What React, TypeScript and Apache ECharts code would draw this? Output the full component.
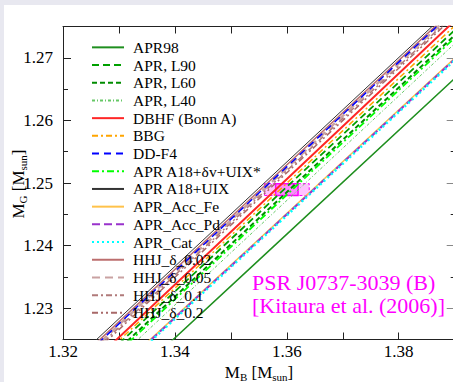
import React, { useEffect, useRef } from "react";
import * as echarts from "echarts";

// Baryonic mass sample points (M_sun)
const massBaryon = [1.32, 1.355, 1.39];

// Gravitational mass (M_sun) at the sample points, per EOS
const apr98 = [1.20867, 1.23768, 1.2667];
const aprL90 = [1.21598, 1.24521, 1.27443];
const aprL60 = [1.21515, 1.24437, 1.2736];
const aprL40 = [1.21381, 1.24304, 1.27226];
const dbhf = [1.21691, 1.24641, 1.27592];
const bbg = [1.21645, 1.24578, 1.27511];
const ddf4 = [1.21915, 1.24841, 1.27767];
const aprA18dv = [1.21473, 1.24395, 1.27318];
const aprA18 = [1.21999, 1.24919, 1.27838];
const accFe = [1.21211, 1.24102, 1.26993];
const accPd = [1.21195, 1.24086, 1.26977];
const aprCat = [1.21178, 1.24069, 1.2696];
const hhj002 = [1.21949, 1.24871, 1.27794];
const hhj005 = [1.21899, 1.24821, 1.27744];
const hhj01 = [1.21857, 1.2478, 1.27702];
const hhj02 = [1.21824, 1.24746, 1.27669];

const seriesNames = [
  "APR98",
  "APR, L90",
  "APR, L60",
  "APR, L40",
  "DBHF (Bonn A)",
  "BBG",
  "DD-F4",
  "APR A18+δv+UIX*",
  "APR A18+UIX",
  "APR_Acc_Fe",
  "APR_Acc_Pd",
  "APR_Cat",
  "HHJ_δ_0.02",
  "HHJ_δ_0.05",
  "HHJ_δ_0.1",
  "HHJ_δ_0.2",
];
const seriesValues = [
  apr98, aprL90, aprL60, aprL40, dbhf, bbg, ddf4, aprA18dv, aprA18,
  accFe, accPd, aprCat, hhj002, hhj005, hhj01, hhj02,
];

// Observational constraint (Kitaura et al. 2006)
const boxOuterMB = [1.356, 1.364];
const boxInnerMB = [1.358, 1.362];
const boxMG = [1.248, 1.2499];

const yMajorTicks = [1.23, 1.24, 1.25, 1.26, 1.27];
const yMinorTicks = [1.225, 1.235, 1.245, 1.255, 1.265, 1.275];

const styles: any[] = [
  { color: "#1f8f1f", width: 1.5, type: "solid" },
  { color: "#00a000", width: 1.8, type: [7, 4] },
  { color: "#008c00", width: 2, type: [5, 3] },
  { color: "#66c866", width: 1, type: [3, 2, 1, 2] },
  { color: "#ff2626", width: 2, type: "solid" },
  { color: "#ffa500", width: 1.5, type: [6, 3, 2, 3] },
  { color: "#0000ff", width: 1.5, type: [7, 5] },
  { color: "#00ff00", width: 1.8, type: [7, 3, 2, 3] },
  { color: "#333333", width: 1, type: "solid" },
  { color: "#ffc24a", width: 1.5, type: "solid" },
  { color: "#9932cc", width: 2, type: [8, 4] },
  { color: "#00ffff", width: 2.5, type: [2, 3] },
  { color: "#bc6e6e", width: 1.5, type: "solid" },
  { color: "#c9a2a2", width: 2.5, type: [8, 5] },
  { color: "#b07a7a", width: 1.5, type: [6, 3, 2, 3] },
  { color: "#a86868", width: 1.5, type: [6, 3, 2, 3, 2, 3] },
];

const SERIF = "'Liberation Serif', 'Times New Roman', Times, serif";

export default function App() {
  const ref = useRef<HTMLDivElement>(null);
  useEffect(() => {
    if (!ref.current) return;
    const chart = echarts.init(ref.current, null, { renderer: "svg" });
    const lineSeries: any[] = seriesNames.map((name, i) => ({
      name,
      type: "line",
      xAxisIndex: 0,
      yAxisIndex: 0,
      symbol: "none",
      data: massBaryon.map((mb, j) => [mb, seriesValues[i][j]]),
      lineStyle: styles[i],
      itemStyle: { color: styles[i].color },
      z: 3,
    }));
    const drawOrder = [8, 12, 13, 14, 15, 6, 4, 5, 1, 2, 7, 3, 9, 10, 11, 0];
    const ordered = drawOrder.map((k) => lineSeries[k]);
    ordered.push({
      name: "box",
      type: "line",
      symbol: "none",
      data: [],
      z: 4,
      markArea: {
        silent: true,
        data: [
          [
            {
              xAxis: boxOuterMB[0],
              yAxis: boxMG[0],
              itemStyle: {
                color: "rgba(255,120,255,0.45)",
                borderColor: "#ff00ff",
                borderWidth: 1,
                borderType: [3, 2],
              },
            },
            { xAxis: boxOuterMB[1], yAxis: boxMG[1] },
          ],
          [
            {
              xAxis: boxInnerMB[0],
              yAxis: boxMG[0],
              itemStyle: {
                color: "rgba(255,0,255,0.3)",
                borderColor: "#ff00ff",
                borderWidth: 1.5,
              },
            },
            { xAxis: boxInnerMB[1], yAxis: boxMG[1] },
          ],
        ],
      },
    });

    const axisLine = { show: true, lineStyle: { color: "#222", width: 1 } };
    const baseY = { type: "value", min: 1.225, max: 1.275, splitLine: { show: false } };
    const richSub = {
      s: { fontFamily: SERIF, fontSize: 11, padding: [9, 0, 0, 0], lineHeight: 7 },
    };
    chart.setOption({
      animation: false,
      textStyle: { fontFamily: SERIF },
      grid: { left: 63, top: 26.5, width: 391.7, height: 313, containLabel: false },
      legend: {
        orient: "vertical",
        left: 91,
        top: 38.5,
        padding: 0,
        itemGap: 0,
        itemWidth: 32,
        itemHeight: 12,
        data: seriesNames,
        selectedMode: false,
        itemStyle: { opacity: 0 },
        textStyle: {
          fontFamily: SERIF,
          fontSize: 15.5,
          color: "#000",
          lineHeight: 17.7,
          padding: [0, 0, 0, 4],
        },
      },
      xAxis: [
        {
          type: "value",
          position: "bottom",
          min: 1.32,
          max: 1.39,
          interval: 0.01,
          axisLine,
          splitLine: { show: false },
          axisTick: { inside: true, length: 7, lineStyle: { color: "#222" } },
          axisLabel: {
            fontFamily: SERIF,
            fontSize: 17,
            color: "#000",
            margin: 3,
            formatter: (v: number) =>
              Math.round(v * 100) % 2 === 0 ? v.toFixed(2) : "",
          },
        },
        {
          type: "value",
          position: "top",
          min: 1.32,
          max: 1.39,
          interval: 0.01,
          axisLine,
          splitLine: { show: false },
          axisTick: { inside: true, length: 7, lineStyle: { color: "#222" } },
          axisLabel: { show: false },
        },
      ],
      yAxis: [
        {
          ...baseY,
          position: "left",
          axisLine,
          axisTick: {
            inside: true,
            length: 8,
            customValues: yMajorTicks,
            lineStyle: { color: "#222" },
          },
          axisLabel: {
            customValues: yMajorTicks,
            fontFamily: SERIF,
            fontSize: 17,
            color: "#000",
            margin: 10,
            formatter: (v: number) => v.toFixed(2),
          },
        },
        {
          ...baseY,
          position: "left",
          axisLine: { show: false },
          axisTick: {
            inside: true,
            length: 5,
            customValues: yMinorTicks,
            lineStyle: { color: "#222" },
          },
          axisLabel: { show: false },
        },
        {
          ...baseY,
          position: "right",
          axisLine,
          axisTick: {
            inside: true,
            length: 8,
            customValues: yMajorTicks,
            lineStyle: { color: "#888" },
          },
          axisLabel: { show: false },
        },
        {
          ...baseY,
          position: "right",
          axisLine: { show: false },
          axisTick: {
            inside: true,
            length: 4,
            customValues: yMinorTicks,
            lineStyle: { color: "#222" },
          },
          axisLabel: { show: false },
        },
      ],
      graphic: [
        {
          type: "text",
          x: 259,
          y: 372,
          style: {
            text: "M{s|B} [M{s|sun}]",
            fontFamily: SERIF,
            fontSize: 17,
            lineHeight: 16,
            fill: "#000",
            align: "center",
            verticalAlign: "middle",
            rich: richSub,
          },
        },
        {
          type: "text",
          x: 18,
          y: 184,
          rotation: Math.PI / 2,
          style: {
            text: "M{s|G} [M{s|sun}]",
            fontFamily: SERIF,
            fontSize: 17,
            lineHeight: 16,
            fill: "#000",
            align: "center",
            verticalAlign: "middle",
            rich: richSub,
          },
        },
        {
          type: "text",
          x: 252,
          y: 271,
          style: {
            text: "PSR J0737-3039 (B)",
            fontFamily: SERIF,
            fontSize: 22,
            fill: "#ff00ff",
          },
        },
        {
          type: "text",
          x: 252,
          y: 294,
          style: {
            text: "[Kitaura et al. (2006)]",
            fontFamily: SERIF,
            fontSize: 22,
            fill: "#ff00ff",
          },
        },
      ],
      series: ordered,
    });
    return () => chart.dispose();
  }, []);

  return (
    <div
      style={{
        position: "fixed",
        left: 0,
        top: 0,
        width: 453,
        height: 382,
        overflow: "hidden",
        background: "#e8e8f0",
      }}
    >
      <div
        style={{
          position: "absolute",
          left: 4,
          top: 5,
          width: 470,
          height: 400,
          background: "#ffffff",
        }}
      />
      <div
        ref={ref}
        style={{ position: "absolute", left: 0, top: 0, width: 460, height: 382 }}
      />
    </div>
  );
}
